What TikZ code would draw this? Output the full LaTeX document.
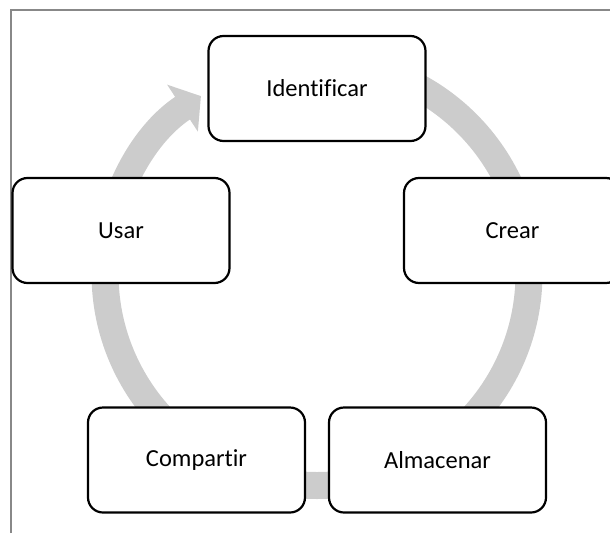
\documentclass[tikz,border=0pt]{standalone}
\usepackage{fontspec}
\setmainfont{Carlito}[Ligatures={NoCommon,NoContextual}]
\usetikzlibrary{arrows.meta}
\definecolor{ringgray}{HTML}{CCCCCC}
\definecolor{framegray}{HTML}{888888}
\begin{document}
\begin{tikzpicture}[x=1pt, y=-1pt,
  stage/.style={draw=black, line width=2.2pt, fill=white, rounded corners=15pt,
    minimum width=217pt, minimum height=105pt, inner sep=0pt,
    font=\fontsize{24.5}{29}\selectfont},
  cyclering/.style={draw=ringgray, line width=27pt,
    -{Triangle[length=22pt, width=55pt]}},
  frameline/.style={draw=framegray, line width=2pt}]
\useasboundingbox (0,0) rectangle (610,533);
% frame
\coordinate (fbl) at (11,533);
\coordinate (ftl) at (11,10);
\coordinate (ftr) at (610,10);
\draw[frameline] (fbl) -- (ftl) -- (ftr);
% cycle ring with arrow into the first stage
\coordinate (hub) at (317,273.5);
\draw[cyclering] (hub) ++(270:212) arc[start angle=270, end angle=596.8, radius=212];
% stages
\node[stage] (identificar) at (317,88.5)   {Identificar};
\node[stage] (crear)       at (512.5,230.5) {Crear};
\node[stage] (almacenar)   at (437.5,460)  {Almacenar};
\node[stage] (compartir)   at (196.5,460)  {Compartir};
\node[stage] (usar)        at (121,230.5)  {Usar};
\end{tikzpicture}
\end{document}
